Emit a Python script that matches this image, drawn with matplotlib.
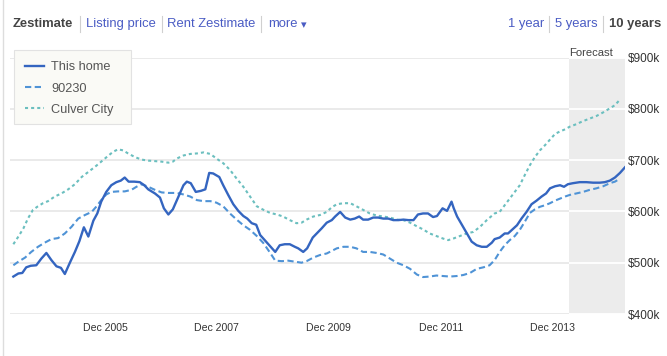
import matplotlib
matplotlib.use("Agg")
import matplotlib.pyplot as plt
from matplotlib.lines import Line2D
from matplotlib.patches import Rectangle

plt.rcParams['font.family'] = ['Liberation Sans', 'DejaVu Sans']
plt.rcParams['lines.scale_dashes'] = False

# ---------------- data (years as decimal, values in $k) ----------------
home_years = [2004.28, 2004.37, 2004.44, 2004.51, 2004.59, 2004.69, 2004.78, 2004.87, 2004.96, 2005.05,
              2005.13, 2005.20, 2005.29, 2005.38, 2005.46, 2005.54, 2005.62, 2005.71, 2005.78, 2005.85,
              2005.94, 2006.03, 2006.12, 2006.20, 2006.27, 2006.34, 2006.44, 2006.54, 2006.62, 2006.69,
              2006.81, 2006.90, 2006.97, 2007.05, 2007.13, 2007.23, 2007.32, 2007.38, 2007.45, 2007.54,
              2007.63, 2007.71, 2007.78, 2007.85, 2007.96, 2008.03, 2008.12, 2008.21, 2008.30, 2008.39,
              2008.46, 2008.54, 2008.62, 2008.69, 2008.78, 2008.87, 2008.96, 2009.04, 2009.13, 2009.22,
              2009.31, 2009.37, 2009.46, 2009.53, 2009.63, 2009.70, 2009.79, 2009.88, 2009.97, 2010.03,
              2010.12, 2010.21, 2010.30, 2010.38, 2010.46, 2010.53, 2010.62, 2010.71, 2010.80, 2010.89,
              2010.98, 2011.07, 2011.16, 2011.25, 2011.34, 2011.43, 2011.51, 2011.60, 2011.69, 2011.78,
              2011.85, 2011.95, 2012.03, 2012.11, 2012.15, 2012.21, 2012.29, 2012.38, 2012.47, 2012.56,
              2012.65, 2012.74, 2012.83, 2012.88, 2012.97, 2013.06, 2013.12, 2013.21, 2013.28, 2013.36,
              2013.45, 2013.54, 2013.63, 2013.72, 2013.80, 2013.87, 2013.96, 2014.05, 2014.12, 2014.19,
              2014.28, 2014.40, 2014.52, 2014.64, 2014.76, 2014.85, 2014.94, 2015.03, 2015.12, 2015.21]
home_values = [473, 479, 480, 491, 494, 495, 508, 519, 505, 493,
               490, 478, 500, 521, 542, 569, 551, 582, 596, 619,
               638, 651, 657, 660, 666, 658, 658, 657, 651, 643,
               635, 627, 606, 594, 604, 629, 651, 658, 655, 638,
               640, 643, 675, 674, 667, 651, 632, 614, 601, 591,
               586, 577, 574, 554, 543, 532, 521, 534, 536, 536,
               531, 528, 521, 528, 549, 557, 567, 578, 583, 590,
               599, 588, 584, 586, 590, 584, 584, 588, 588, 586,
               586, 583, 583, 584, 583, 583, 594, 596, 596, 589,
               591, 606, 601, 619, 606, 590, 575, 558, 541, 534,
               531, 531, 539, 546, 549, 557, 557, 566, 573, 586,
               599, 614, 621, 629, 635, 645, 649, 651, 648, 653,
               655, 657, 657, 656, 656, 657, 660, 666, 675, 686]

zip_years = [2004.28, 2004.37, 2004.49, 2004.60, 2004.72, 2004.84, 2004.96, 2005.08, 2005.20, 2005.32,
             2005.44, 2005.56, 2005.68, 2005.76, 2005.85, 2005.94, 2006.03, 2006.15, 2006.27, 2006.39,
             2006.48, 2006.57, 2006.69, 2006.81, 2006.93, 2007.05, 2007.20, 2007.32, 2007.44, 2007.56,
             2007.68, 2007.80, 2007.91, 2008.03, 2008.15, 2008.27, 2008.39, 2008.51, 2008.63, 2008.75,
             2008.87, 2008.96, 2009.08, 2009.19, 2009.31, 2009.43, 2009.52, 2009.64, 2009.76, 2009.88,
             2010.06, 2010.18, 2010.30, 2010.41, 2010.53, 2010.65, 2010.77, 2010.89, 2011.01, 2011.13,
             2011.25, 2011.37, 2011.49, 2011.60, 2011.72, 2011.84, 2011.96, 2012.08, 2012.20, 2012.32,
             2012.44, 2012.56, 2012.68, 2012.79, 2012.88, 2012.97, 2013.06, 2013.15, 2013.24, 2013.33,
             2013.42, 2013.51, 2013.60, 2013.69, 2013.78, 2013.87, 2013.96, 2014.05, 2014.14, 2014.22,
             2014.34, 2014.46, 2014.58, 2014.70, 2014.82, 2014.94, 2015.03, 2015.12]
zip_values = [495, 502, 510, 521, 531, 539, 546, 548, 557, 570,
              586, 593, 599, 609, 622, 633, 638, 639, 639, 642,
              648, 653, 648, 642, 637, 636, 636, 633, 629, 622,
              620, 620, 617, 610, 596, 584, 573, 564, 552, 538,
              519, 504, 503, 504, 502, 500, 503, 510, 515, 518,
              528, 531, 531, 528, 521, 521, 519, 516, 508, 500,
              495, 488, 477, 472, 473, 475, 474, 473, 474, 476,
              480, 488, 491, 495, 505, 521, 534, 544, 552, 564,
              580, 597, 604, 609, 612, 616, 621, 625, 629, 632,
              635, 638, 642, 645, 649, 655, 658, 664]

city_years = [2004.28, 2004.37, 2004.46, 2004.54, 2004.63, 2004.72, 2004.81, 2004.90, 2005.02, 2005.14,
              2005.26, 2005.38, 2005.50, 2005.62, 2005.74, 2005.85, 2005.97, 2006.06, 2006.15, 2006.24,
              2006.33, 2006.45, 2006.57, 2006.69, 2006.81, 2006.93, 2007.05, 2007.13, 2007.20, 2007.32,
              2007.44, 2007.56, 2007.68, 2007.80, 2007.91, 2008.03, 2008.15, 2008.27, 2008.39, 2008.51,
              2008.63, 2008.75, 2008.87, 2008.99, 2009.10, 2009.22, 2009.34, 2009.43, 2009.52, 2009.64,
              2009.76, 2009.88, 2009.97, 2010.06, 2010.18, 2010.30, 2010.41, 2010.53, 2010.65, 2010.77,
              2010.89, 2011.01, 2011.13, 2011.25, 2011.37, 2011.49, 2011.60, 2011.72, 2011.84, 2011.96,
              2012.05, 2012.14, 2012.26, 2012.38, 2012.50, 2012.62, 2012.74, 2012.88, 2012.97, 2013.06,
              2013.15, 2013.24, 2013.33, 2013.42, 2013.51, 2013.60, 2013.69, 2013.78, 2013.87, 2013.96,
              2014.05, 2014.14, 2014.22, 2014.34, 2014.46, 2014.58, 2014.70, 2014.82, 2014.94, 2015.03,
              2015.12]
city_values = [536, 551, 567, 586, 603, 610, 616, 620, 629, 635,
               643, 653, 667, 677, 687, 697, 708, 716, 721, 719,
               713, 706, 701, 699, 698, 697, 695, 697, 703, 709,
               712, 713, 715, 712, 703, 694, 681, 664, 648, 629,
               610, 603, 597, 594, 590, 583, 577, 578, 584, 590,
               593, 599, 608, 614, 616, 616, 610, 603, 596, 592,
               590, 588, 584, 583, 578, 571, 565, 557, 552, 547,
               544, 547, 552, 557, 560, 570, 583, 596, 599, 612,
               625, 638, 651, 671, 690, 706, 719, 729, 740, 751,
               756, 760, 765, 770, 776, 781, 786, 793, 801, 807,
               818]

series_labels = ["This home", "90230", "Culver City"]
tick_years = [2005, 2007, 2009, 2011, 2013]
tick_labels = ["Dec 2005", "Dec 2007", "Dec 2009", "Dec 2011", "Dec 2013"]
y_ticks = [400, 500, 600, 700, 800, 900]
y_labels = ["$400k", "$500k", "$600k", "$700k", "$800k", "$900k"]
x_start, forecast_start, x_end = 2004.22, 2014.21, 2015.21

# ---------------- figure ----------------
W, H = 667, 356
fig = plt.figure(figsize=(W / 100, H / 100), dpi=100)
ax = fig.add_axes([10 / W, 1 - 314 / H, 615 / W, 256.5 / H])
ax.set_xlim(x_start, x_end)
ax.set_ylim(400, 900)
for s in ax.spines.values():
    s.set_visible(False)

ax.axvspan(forecast_start, x_end, color='#ececec', zorder=0, lw=0)
ax.hlines(y_ticks, x_start, forecast_start, color='#e8e8e8', lw=1.3, zorder=1)
ax.hlines(y_ticks, forecast_start, x_end, color='white', lw=1.3, zorder=1)

c_home, c_zip, c_city = '#3465c0', '#4f93d6', '#6bbfbf'
ax.plot(home_years, home_values, color=c_home, lw=1.7, zorder=5, solid_joinstyle='round')
ax.plot(zip_years, zip_values, color=c_zip, lw=1.5, dashes=(4.5, 2.5), zorder=4)
ax.plot(city_years, city_values, color=c_city, lw=1.5, dashes=(2.2, 2.2), zorder=3)

ax.set_xticks([y + 11 / 12 for y in tick_years])
ax.set_xticklabels(tick_labels, fontsize=7.6, color='#333333')
ax.yaxis.tick_right()
ax.set_yticks(y_ticks)
ax.set_yticklabels(y_labels, fontsize=8.5, color='#333333')
ax.tick_params(axis='both', length=0)
ax.tick_params(axis='x', pad=6.5)
ax.tick_params(axis='y', pad=2)

ax.text(forecast_start + 0.01, 1.0, "Forecast", transform=ax.get_xaxis_transform(),
        fontsize=8.1, color='#444444', ha='left', va='bottom')

# legend box
ax.add_patch(Rectangle((14 / W, 1 - 124 / H), 117 / W, 74 / H, transform=fig.transFigure,
                       facecolor='#fafaf6', edgecolor='#e2e2e2', lw=0.8, clip_on=False, zorder=9))
handles = [Line2D([], [], color=c_home, lw=1.7),
           Line2D([], [], color=c_zip, lw=1.5, dashes=(4.5, 2.5)),
           Line2D([], [], color=c_city, lw=1.5, dashes=(2.2, 2.2))]
leg = ax.legend(handles, series_labels, loc='upper left', bbox_to_anchor=(25 / W, 1 - 61.5 / H),
                bbox_transform=fig.transFigure, fontsize=9.2, frameon=False,
                borderpad=0, labelspacing=0.72, handlelength=1.45, handletextpad=0.6,
                borderaxespad=0)
leg.set_zorder(10)
for t in leg.get_texts():
    t.set_color('#555555')

# ---------------- header ----------------
def fx(px):
    return px / W

def fy(py):
    return 1 - py / H

link = '#4a5cc4'
yh = 24
hs = 9.4
fig.text(fx(13), fy(yh), "Zestimate", fontsize=hs, fontweight='bold', color='#444444', va='center')
fig.text(fx(86), fy(yh), "Listing price", fontsize=hs, color=link, va='center')
fig.text(fx(167), fy(yh), "Rent Zestimate", fontsize=hs, color=link, va='center')
fig.text(fx(268), fy(yh), "more", fontsize=hs, color=link, va='center')
fig.text(fx(301), fy(yh + 1), "\u25BE", fontsize=8, color=link, va='center', family='DejaVu Sans')
fig.text(fx(508), fy(yh), "1 year", fontsize=hs, color=link, va='center')
fig.text(fx(555), fy(yh), "5 years", fontsize=hs, color=link, va='center')
fig.text(fx(609), fy(yh), "10 years", fontsize=hs, fontweight='bold', color='#444444', va='center')
for sx in [80, 162, 261, 549, 603]:
    fig.add_artist(Line2D([fx(sx), fx(sx)], [fy(16), fy(32)], color='#d0d0d0', lw=0.8))
fig.add_artist(Line2D([fx(3), fx(3)], [0, 1], color='#dddddd', lw=1))

fig.savefig('out.png', dpi=100)
